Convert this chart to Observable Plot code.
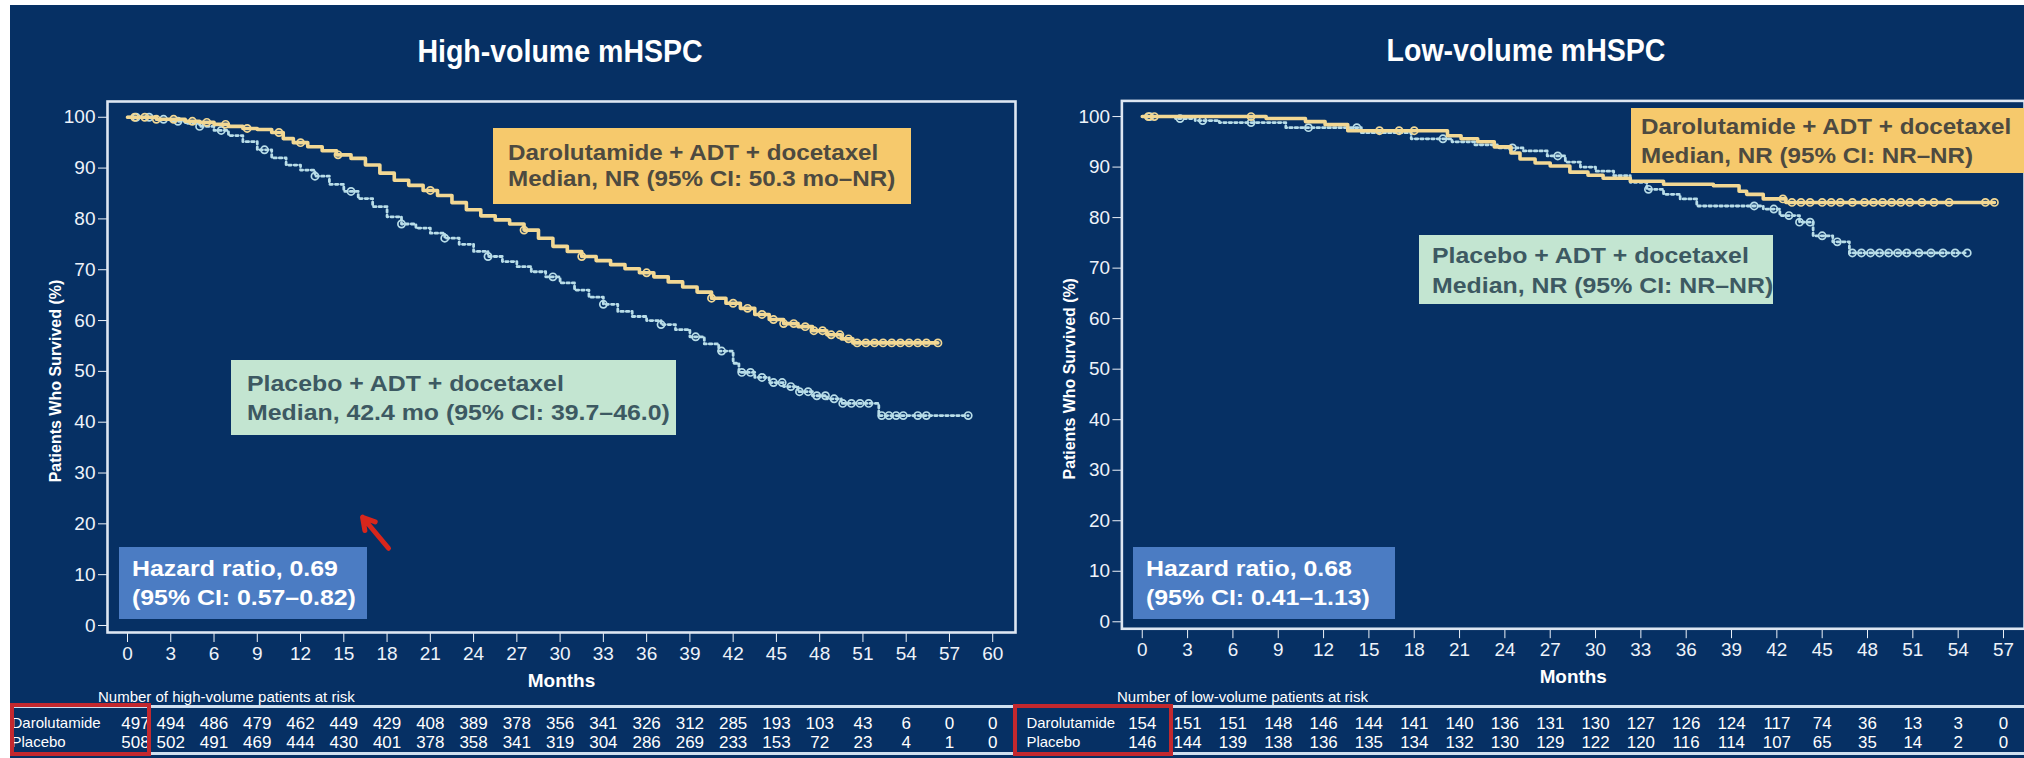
<!DOCTYPE html>
<html><head><meta charset="utf-8">
<script src="https://cdn.jsdelivr.net/npm/d3@7"></script>
<script src="https://cdn.jsdelivr.net/npm/@observablehq/plot@0.6"></script>
<style>
body{margin:0;background:#fff;font-family:"Liberation Sans",Arial,sans-serif;}
#root{position:relative;width:2024px;height:758px;overflow:hidden;background:#fff;}
#bg{position:absolute;left:10px;top:5px;right:0;bottom:0;background:#063064;}
.abs{position:absolute;}
.title{position:absolute;color:#fff;font-weight:bold;font-size:31px;transform:translate(-50%,-50%) scaleX(0.92);white-space:nowrap;}
.box{position:absolute;box-sizing:border-box;font-weight:bold;white-space:nowrap;font-size:22px;}
.box > div{transform:scaleX(1.1);transform-origin:left top;}
.yel{background:#f6c96c;color:#4d4a40;}
.mint{background:#c3e5d1;color:#3d5962;}
.mint > div{transform:scaleX(1.13);}
.hr{background:#4b7cc3;color:#fff;}
.hr > div{transform:scaleX(1.13);}
.rule{position:absolute;height:2.5px;background:#cfe0f0;}
.red{position:absolute;box-sizing:border-box;border:4px solid #c3282e;}
.risktitle{position:absolute;color:#fff;font-size:15px;white-space:nowrap;}
</style></head>
<body>
<div id="root">
  <div id="bg"></div>
  <div class="title" style="left:560px;top:52px">High-volume mHSPC</div>
  <div class="title" style="left:1526px;top:51px">Low-volume mHSPC</div>
  <div class="abs" id="leftKM" style="left:0;top:0"></div>
  <div class="abs" id="rightKM" style="left:1015px;top:0"></div>
  <div class="rule" style="left:10px;right:0;top:705px"></div>
  <div class="rule" style="left:10px;right:0;top:752px"></div>
  <div class="abs" id="leftRisk" style="left:0;top:700px"></div>
  <div class="abs" id="rightRisk" style="left:1015px;top:700px"></div>
  <div class="red" style="left:10px;top:703px;width:141px;height:53px"></div>
  <div class="red" style="left:1013px;top:704px;width:160px;height:52px"></div>
  <div class="risktitle" style="left:98px;top:688px">Number of high-volume patients at risk</div>
  <div class="risktitle" style="left:1117px;top:688px">Number of low-volume patients at risk</div>
  <div class="box yel" style="left:493px;top:128px;width:418px;height:76px;padding:12px 0 0 15px;line-height:26px"><div>Darolutamide + ADT + docetaxel<br>Median, NR (95% CI: 50.3 mo–NR)</div></div>
  <div class="box mint" style="left:231px;top:360px;width:445px;height:75px;padding:9px 0 0 16px;line-height:29px"><div>Placebo + ADT + docetaxel<br>Median, 42.4 mo (95% CI: 39.7–46.0)</div></div>
  <div class="box hr" style="left:119px;top:547px;width:248px;height:72px;padding:7px 0 0 13px;line-height:29px"><div>Hazard ratio, 0.69<br>(95% CI: 0.57–0.82)</div></div>
  <div class="box yel" style="left:1631px;top:108px;width:400px;height:65px;padding:4px 0 0 10px;line-height:29px"><div>Darolutamide + ADT + docetaxel<br>Median, NR (95% CI: NR–NR)</div></div>
  <div class="box mint" style="left:1419px;top:235px;width:354px;height:69px;padding:6px 0 0 13px;line-height:30px"><div>Placebo + ADT + docetaxel<br>Median, NR (95% CI: NR–NR)</div></div>
  <div class="box hr" style="left:1133px;top:547px;width:262px;height:72px;padding:7px 0 0 13px;line-height:29px"><div>Hazard ratio, 0.68<br>(95% CI: 0.41–1.13)</div></div>
</div>
<script>
// ---------- DATA ----------
// High-volume: Kaplan–Meier steps [month, % surviving]
const hvDaro = [[0,100],[1,100],[2,99.6],[4,99.2],[5,99.0],[6,98.6],[7,98.2],[8,97.8],[9,97.6],[10,97.0],[10.8,95.8],[11.5,95.0],[12.5,94.2],[13.5,93.4],[14.5,92.6],[15.5,91.9],[16.5,90.6],[17.5,89.0],[18.5,87.6],[19.5,86.6],[20.5,85.6],[21.5,84.6],[22.5,83.2],[23.5,81.8],[24.5,80.6],[25.5,79.8],[26.5,79.0],[27.5,77.8],[28.5,76.2],[29.5,74.6],[30.5,73.6],[31.5,72.6],[32.5,71.8],[33.5,71.0],[34.5,70.2],[35.5,69.4],[36.5,68.6],[37.5,67.6],[38.5,66.6],[39.5,65.6],[40.5,64.4],[41.5,63.4],[42.5,62.4],[43.5,61.2],[44.5,60.2],[45.5,59.4],[46.5,58.8],[47.5,58.0],[48.5,57.2],[49.5,56.4],[50.3,55.6],[56.2,55.6]];
const hvPbo = [[0,100],[1,100],[2,99.6],[3,99.2],[4,98.8],[5,98.2],[6,97.4],[7,96.4],[8,95.2],[9,93.6],[10,92.0],[11,90.6],[12,89.6],[13,88.4],[14,86.8],[15,85.4],[16,84.0],[17,82.4],[18,80.4],[19,79.0],[20,78.2],[21,77.2],[22,76.2],[23,75.0],[24,73.6],[25,72.6],[26,71.6],[27,70.6],[28,69.6],[29,68.6],[30,67.4],[31,66.0],[32,64.6],[33,63.2],[34,61.8],[35,60.8],[36,60.0],[37,59.2],[38,58.2],[39,56.8],[40,55.4],[41,54.0],[42,51.6],[42.4,49.8],[43.5,48.8],[44.5,47.8],[45.5,47.0],[46.5,46.0],[47.5,45.2],[48.5,44.6],[49.5,43.7],[52.1,41.3],[58.3,41.3]];
const hvDaroCensor = [0.5,1.2,2,3.2,4.5,5.5,6.8,8.3,10.5,12,14.6,21,27.5,31.5,36,40.5,42,43,44,44.8,45.5,46.2,47,47.6,48.2,48.8,49.4,50,50.6,51.2,51.8,52.4,53,53.6,54.2,54.8,55.4,56.2];
const hvPboCensor = [0.6,1.5,2.5,3.5,5,6.5,9.5,13,15.5,19,22,25,29.5,33,37,39.4,41.2,42.6,43.2,44,44.8,45.4,46,46.6,47.2,47.8,48.4,49,49.6,50.2,50.8,51.4,52.3,52.8,53.3,53.8,54.8,55.4,58.3];
// Low-volume
const lvDaro = [[0,100],[8.2,99.6],[10.8,99.0],[12.1,98.4],[13.6,97.2],[20.2,96.2],[21.1,95.6],[22.2,95.0],[23.3,94.0],[24.4,92.8],[25,91.6],[26,90.8],[27,90.2],[28.3,89.0],[29.5,88.4],[30.5,87.8],[32.3,87.2],[34.5,86.6],[37.8,86.3],[39.5,85.2],[40,84.6],[41.1,83.7],[42.6,83.0],[56.4,83.0]];
const lvPbo = [[0,100],[2.2,99.6],[3.5,99.2],[5.1,98.8],[9.5,97.8],[14.5,96.8],[17.8,95.6],[20.5,95.0],[22,94.4],[23.5,93.8],[25.2,93.2],[26.8,92.2],[28,91.0],[29,90.0],[30,89.2],[31.2,88.3],[32.3,87.0],[33.4,85.6],[34.5,84.6],[35.6,83.7],[36.7,82.3],[41.1,81.7],[42.2,80.4],[43.5,79.1],[44.4,76.4],[45.7,75.2],[46.8,73.0],[54.6,73.0]];
const lvDaroCensor = [0.4,0.8,7.2,15.7,17,18,42.4,43,43.6,44.2,45,45.6,46.2,47,47.8,48.4,49,49.6,50.2,50.8,51.6,52.4,53.4,55.8,56.4];
const lvPboCensor = [0.5,2.5,4,7.2,11,14.2,19.9,24.5,27.5,33.5,40.5,41.8,42.8,43.5,44.2,45,46,47,47.6,48.2,48.8,49.4,50,50.6,51.4,52.2,53,53.8,54.6];
// Axis ticks
const hvMonthTicks = [0,3,6,9,12,15,18,21,24,27,30,33,36,39,42,45,48,51,54,57,60];
const lvMonthTicks = [0,3,6,9,12,15,18,21,24,27,30,33,36,39,42,45,48,51,54,57];
const pctTicks = [0,10,20,30,40,50,60,70,80,90,100];
// Numbers at risk
const arms = ["Darolutamide","Placebo"];
const hvRiskDaro = [497,494,486,479,462,449,429,408,389,378,356,341,326,312,285,193,103,43,6,0,0];
const hvRiskPbo  = [508,502,491,469,444,430,401,378,358,341,319,304,286,269,233,153,72,23,4,1,0];
const lvRiskDaro = [154,151,151,148,146,144,141,140,136,131,130,127,126,124,117,74,36,13,3,0];
const lvRiskPbo  = [146,144,139,138,136,135,134,132,130,129,122,120,116,114,107,65,35,14,2,0];
// on-screen pointer seen in the slide (month, %)
const pointer = [{m1:18.1, v1:15.2, m2:16.3, v2:21.3}];

// ---------- helpers ----------
const AX = "#dde6f2", YEL = "#f2d894", PBO = "#b8dde8";
const font = "Liberation Sans, Arial, sans-serif";
const toObjs = s => s.map(([m,v]) => ({m, v}));
function stepAt(series, t){ let v = series[0][1]; for (const [m,val] of series){ if (m <= t) v = val; else break; } return v; }
const censor = (series, times) => times.map(t => ({m:t, v:stepAt(series,t)}));

function km({daro, pbo, daroC, pboC, xDomain, ticks, width, marginRight, extra=[]}){
  return Plot.plot({
    width, height:700, marginLeft:107, marginRight, marginTop:101, marginBottom:68,
    style:{background:"transparent", color:"#eef3fa", fontFamily:font, fontSize:"19px", overflow:"visible"},
    x:{domain:xDomain, ticks, tickSize:10, tickPadding:4, tickFormat:d=>String(d), label:null},
    y:{domain:[-1.38,103.1], ticks:pctTicks, tickSize:9, tickPadding:3, tickFormat:d=>String(d), label:null},
    marks:[
      Plot.line(toObjs(pbo), {x:"m", y:"v", curve:"step-after", stroke:PBO, strokeWidth:2.8, strokeDasharray:"2.5,3"}),
      Plot.dot(censor(pbo,pboC), {x:"m", y:"v", r:3.6, stroke:PBO, strokeWidth:1.7, fill:"none"}),
      Plot.line(toObjs(daro), {x:"m", y:"v", curve:"step-after", stroke:YEL, strokeWidth:3.6}),
      Plot.dot(censor(daro,daroC), {x:"m", y:"v", r:3.6, stroke:YEL, strokeWidth:1.7, fill:"none"}),
      Plot.frame({stroke:AX, strokeWidth:2.6}),
      Plot.text(["Patients Who Survived (%)"], {text:d=>d, frameAnchor:"left", textAnchor:"middle", rotate:-90, dx:-52, dy:14, fill:"#fff", fontWeight:"bold", fontSize:16}),
      Plot.text(["Months"], {text:d=>d, frameAnchor:"bottom", lineAnchor:"middle", dy:48, fill:"#fff", fontWeight:"bold", fontSize:19}),
      ...extra
    ]
  });
}

function riskTable({months, daro, pbo, xDomain, width, marginRight, firstDx}){
  const rows = [];
  months.forEach((m,i) => { rows.push({m, arm:"Darolutamide", n:daro[i]}); rows.push({m, arm:"Placebo", n:pbo[i]}); });
  return Plot.plot({
    width, height:58, marginLeft:107, marginRight, marginTop:23, marginBottom:16,
    style:{background:"transparent", color:"#fff", fontFamily:font, overflow:"visible"},
    x:{domain:xDomain, axis:null},
    y:{type:"point", domain:arms, padding:0, axis:null},
    marks:[
      Plot.text(rows.filter(d=>d.m>0), {x:"m", y:"arm", text:"n", fill:"#fff", fontSize:17}),
      Plot.text(rows.filter(d=>d.m===0), {x:"m", y:"arm", text:"n", fill:"#fff", fontSize:17, dx:firstDx}),
      Plot.text(arms, {text:d=>d, y:d=>d, frameAnchor:"left", textAnchor:"start", dx:-96, fill:"#fff", fontSize:15})
    ]
  });
}

const hvDomain = [-1.387, 61.58];
const lvDomain = [-1.35, 58.39];

document.getElementById("leftKM").append(km({
  daro:hvDaro, pbo:hvPbo, daroC:hvDaroCensor, pboC:hvPboCensor,
  xDomain:hvDomain, ticks:hvMonthTicks, width:1020, marginRight:5,
  extra:[Plot.arrow(pointer, {x1:"m1", y1:"v1", x2:"m2", y2:"v2", stroke:"#d8261c", strokeWidth:5, headLength:12})]
}));
document.getElementById("rightKM").append(km({
  daro:lvDaro, pbo:lvPbo, daroC:lvDaroCensor, pboC:lvPboCensor,
  xDomain:lvDomain, ticks:lvMonthTicks, width:1015, marginRight:0
}));
document.getElementById("leftRisk").append(riskTable({
  months:hvMonthTicks, daro:hvRiskDaro, pbo:hvRiskPbo, xDomain:hvDomain, width:1020, marginRight:5, firstDx:8
}));
document.getElementById("rightRisk").append(riskTable({
  months:lvMonthTicks, daro:lvRiskDaro, pbo:lvRiskPbo, xDomain:lvDomain, width:1015, marginRight:0, firstDx:0
}));
</script>
</body></html>
